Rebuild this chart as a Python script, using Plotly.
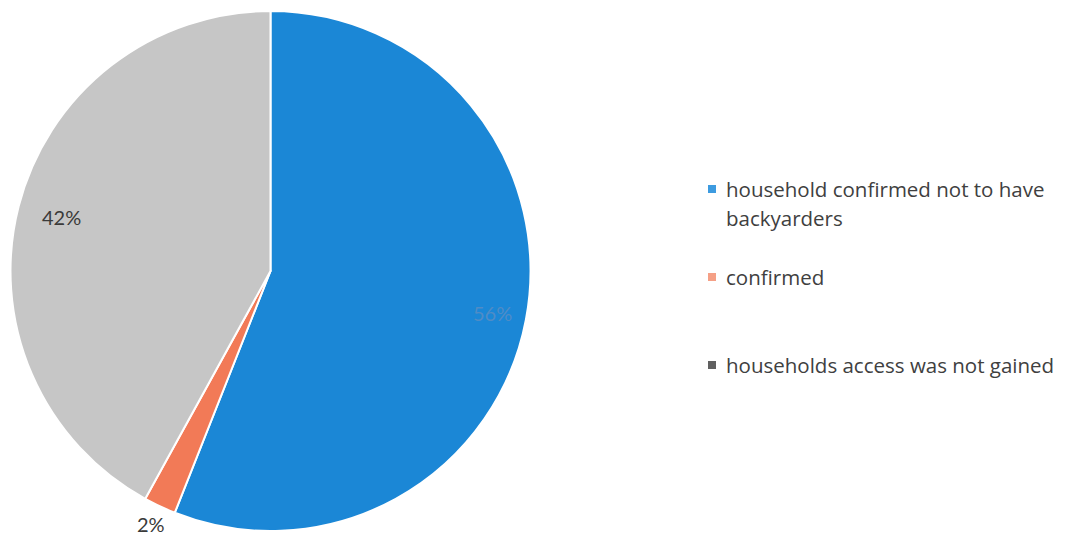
import math
import plotly.graph_objects as go

# Survey outcome shares (percent)
categories = [
    "household confirmed not to have backyarders",
    "confirmed",
    "households access was not gained",
]
legend_lines = [
    ["household confirmed not to have", "backyarders"],
    ["confirmed"],
    ["households access was not gained"],
]
values = [56, 2, 42]
slice_colors = ["#1B87D6", "#F27A57", "#C6C6C6"]
legend_colors = ["#3D9BE0", "#F5A086", "#606060"]
label_colors = ["#4F8CC6", "#3A3A3A", "#3A3A3A"]
label_radius = [0.87, 1.075, 0.83]

W, H = 1066, 544
dom_x = [9 / W, 532 / W]
dom_y = [1 - 531 / H, 1 - 11 / H]

fig = go.Figure(
    go.Pie(
        labels=categories,
        values=values,
        sort=False,
        direction="clockwise",
        rotation=0,
        marker=dict(colors=slice_colors, line=dict(color="white", width=2)),
        textinfo="none",
        hoverinfo="label+percent",
        showlegend=False,
        domain=dict(x=dom_x, y=dom_y),
    )
)

# percentage labels placed along each slice's mid angle
cx = (dom_x[0] + dom_x[1]) / 2 * W
cy = (1 - (dom_y[0] + dom_y[1]) / 2) * H
radius = min((dom_x[1] - dom_x[0]) * W, (dom_y[1] - dom_y[0]) * H) / 2
total = sum(values)
annotations = []
cum = 0
for v, col, rf in zip(values, label_colors, label_radius):
    mid = (cum + v / 2) / total * 2 * math.pi
    cum += v
    px = cx + rf * radius * math.sin(mid)
    py = cy - rf * radius * math.cos(mid)
    annotations.append(
        dict(
            x=px / W, y=1 - py / H, xref="paper", yref="paper",
            text=f"{round(v / total * 100)}%", showarrow=False,
            font=dict(family="Lato", size=20, color=col),
            xanchor="center", yanchor="middle",
        )
    )

# legend on the right
legend_y = [189, 277, 365]
shapes = []
for lines, col, ly in zip(legend_lines, legend_colors, legend_y):
    shapes.append(
        dict(
            type="rect", xref="paper", yref="paper",
            x0=708 / W, x1=716 / W, y0=1 - (ly + 4) / H, y1=1 - (ly - 4) / H,
            fillcolor=col, line=dict(width=0),
        )
    )
    for i, line in enumerate(lines):
        annotations.append(
            dict(
                x=724 / W, y=1 - (ly + i * 29) / H, xref="paper", yref="paper",
                text=line, showarrow=False,
                font=dict(family="Open Sans", size=20.5, color="#404040"),
                xanchor="left", yanchor="middle",
            )
        )

fig.update_layout(
    width=W, height=H,
    margin=dict(l=0, r=0, t=0, b=0),
    paper_bgcolor="white",
    plot_bgcolor="white",
    annotations=annotations,
    shapes=shapes,
)

fig.write_html("out.html")
